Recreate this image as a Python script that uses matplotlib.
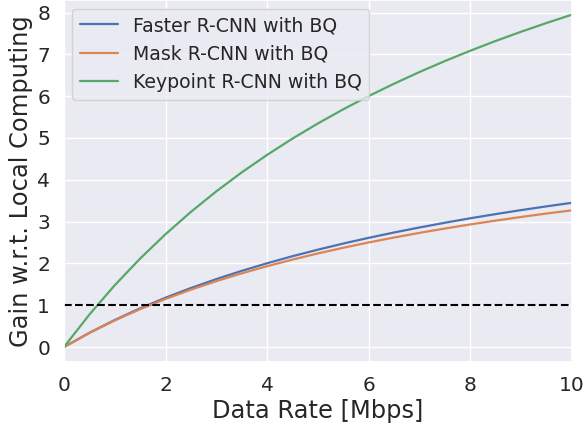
import matplotlib
matplotlib.use("Agg")
import matplotlib.pyplot as plt
import seaborn as sns

sns.set_theme(style="darkgrid")
plt.rcParams['font.family'] = ['DejaVu Sans']

# Data rate samples [Mbps]
data_rate = [0.0, 0.5, 1.0, 1.5, 2.0, 2.5, 3.0, 3.5, 4.0, 4.5, 5.0,
             5.5, 6.0, 6.5, 7.0, 7.5, 8.0, 8.5, 9.0, 9.5, 10.0]

faster_rcnn_gain = [0.0, 0.340, 0.647, 0.926, 1.180, 1.412, 1.625, 1.822, 2.004, 2.173, 2.329,
                    2.476, 2.612, 2.740, 2.860, 2.973, 3.080, 3.180, 3.275, 3.365, 3.450]
mask_rcnn_gain = [0.0, 0.335, 0.636, 0.906, 1.150, 1.373, 1.576, 1.763, 1.934, 2.092, 2.239,
                  2.375, 2.502, 2.620, 2.731, 2.835, 2.933, 3.024, 3.111, 3.193, 3.270]
keypoint_rcnn_gain = [0.0, 0.777, 1.479, 2.117, 2.700, 3.234, 3.725, 4.178, 4.597, 4.987, 5.349,
                      5.688, 6.004, 6.300, 6.579, 6.841, 7.088, 7.322, 7.542, 7.751, 7.950]

series_labels = ["Faster R-CNN with BQ", "Mask R-CNN with BQ", "Keypoint R-CNN with BQ"]
baseline_gain = 1.0

palette = sns.color_palette("deep")

fig = plt.figure(figsize=(5.87, 4.29), dpi=100)
ax = fig.add_axes([0.109, 0.156, 0.8655, 0.844])

ax.plot(data_rate, faster_rcnn_gain, color=palette[0], lw=1.6, label=series_labels[0])
ax.plot(data_rate, mask_rcnn_gain, color=palette[1], lw=1.6, label=series_labels[1])
ax.plot(data_rate, keypoint_rcnn_gain, color=palette[2], lw=1.6, label=series_labels[2])
ax.axhline(baseline_gain, color="black", ls="--", lw=1.5)

ax.set_xlim(0, 10)
ax.set_ylim(-0.36, 8.3)
ax.set_xticks([0, 2, 4, 6, 8, 10])
ax.set_yticks(range(0, 9))
ax.tick_params(axis="both", labelsize=14.5, pad=4)
ax.set_xlabel("Data Rate [Mbps]", fontsize=17.4, labelpad=3)
ax.set_ylabel("Gain w.r.t. Local Computing", fontsize=17.4, labelpad=3)

ax.legend(loc="upper left", fontsize=13.6, borderaxespad=0.45)

fig.savefig("out.png", dpi=100)
